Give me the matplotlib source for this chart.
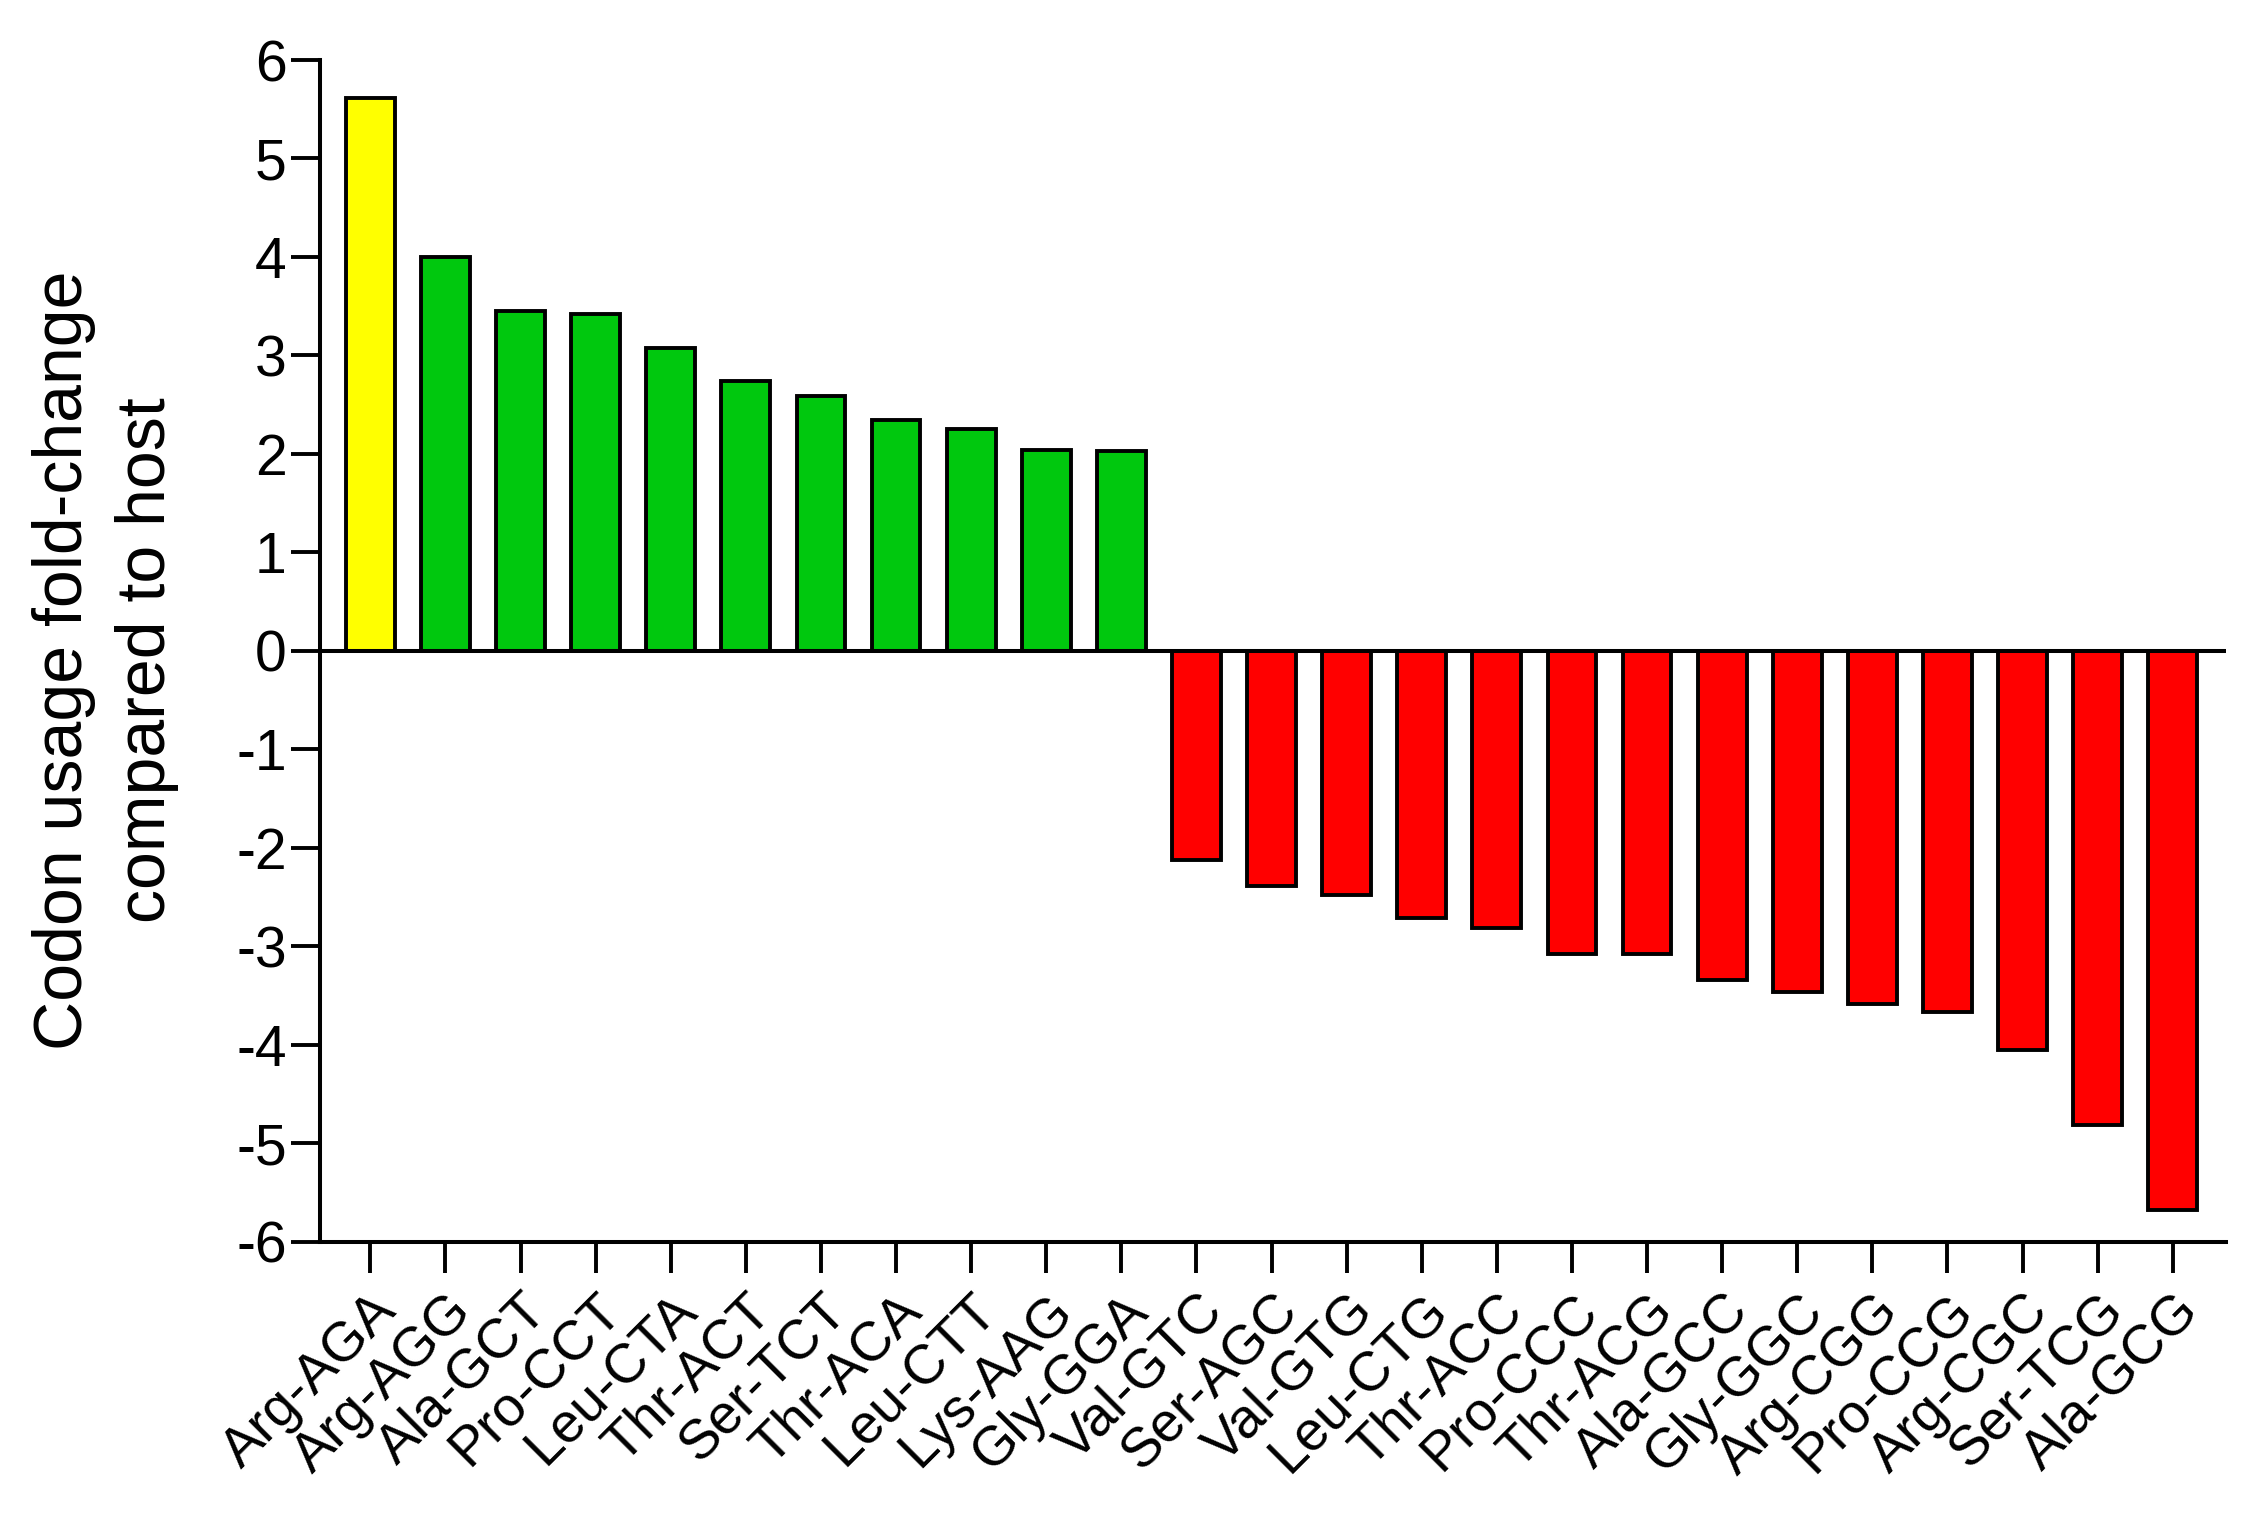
import matplotlib.pyplot as plt

plt.rcParams["font.family"] = ["Liberation Sans", "DejaVu Sans"]
plt.rcParams["axes.unicode_minus"] = False

codons = [
    "Arg-AGA", "Arg-AGG", "Ala-GCT", "Pro-CCT", "Leu-CTA", "Thr-ACT",
    "Ser-TCT", "Thr-ACA", "Leu-CTT", "Lys-AAG", "Gly-GGA", "Val-GTC",
    "Ser-AGC", "Val-GTG", "Leu-CTG", "Thr-ACC", "Pro-CCC", "Thr-ACG",
    "Ala-GCC", "Gly-GGC", "Arg-CGG", "Pro-CCG", "Arg-CGC", "Ser-TCG",
    "Ala-GCG",
]
fold_change = [
    5.61, 4.00, 3.45, 3.42, 3.08, 2.74, 2.59, 2.34, 2.25, 2.04, 2.03,
    -2.12, -2.39, -2.48, -2.71, -2.81, -3.08, -3.08, -3.34, -3.47,
    -3.59, -3.67, -4.05, -4.82, -5.68,
]
bar_colors = ["#FFFF00"] + ["#00C80E"] * 10 + ["#FF0000"] * 14

fig = plt.figure(figsize=(22.6, 15.16), dpi=100)
ax = fig.add_axes([0.1416, 0.181, 0.8434, 0.7794])

x = range(len(codons))
ax.bar(x, fold_change, width=0.65, color=bar_colors,
       edgecolor="black", linewidth=2.8, zorder=2)
ax.axhline(0, color="black", linewidth=2.9, zorder=3)

ax.set_xlim(-0.67, len(codons) - 0.29)
ax.set_ylim(-6, 6)
ax.set_yticks(range(-6, 7))
ax.set_xticks(list(x))
ax.set_xticklabels(codons, rotation=45, ha="right", va="top",
                   rotation_mode="anchor", fontsize=40)
ax.tick_params(axis="y", labelsize=41, length=21, width=2.8, pad=3)
ax.tick_params(axis="x", length=22, width=2.8, pad=9)

for side in ["top", "right"]:
    ax.spines[side].set_visible(False)
for side in ["left", "bottom"]:
    ax.spines[side].set_linewidth(2.9)

ax.set_ylabel("Codon usage fold-change\ncompared to host", fontsize=49,
              linespacing=1.37)
ax.yaxis.set_label_coords(-0.074, 0.492)

plt.savefig("out.png", dpi=100)
plt.close()
